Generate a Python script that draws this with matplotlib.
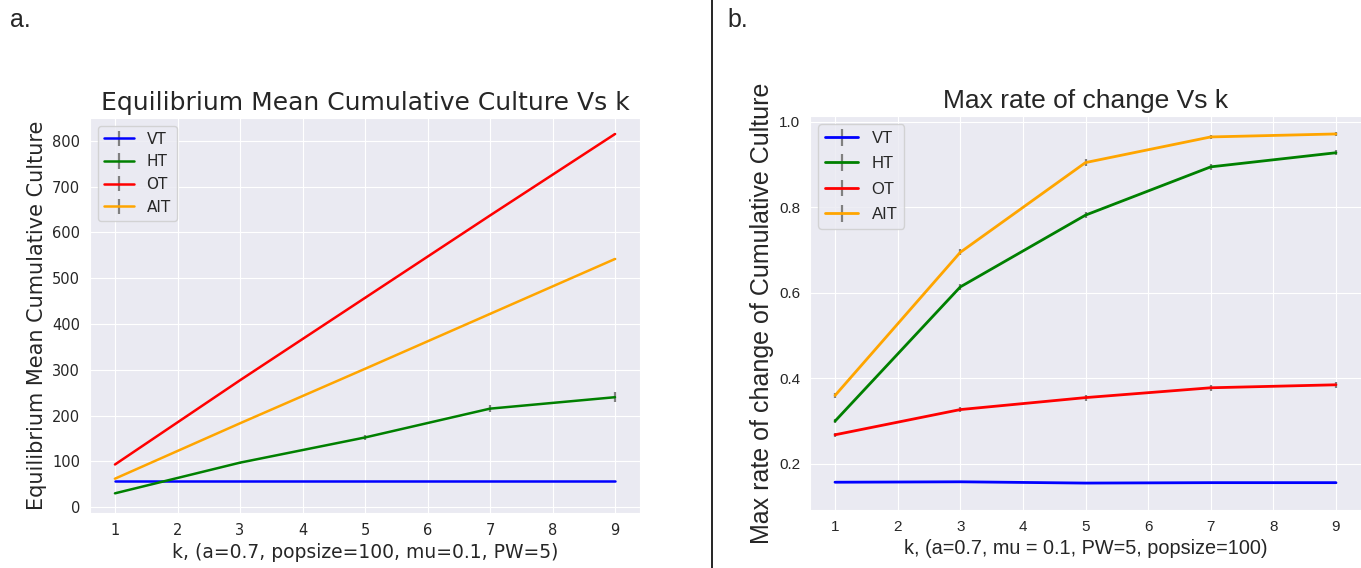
import matplotlib.pyplot as plt
import seaborn as sns

sns.set_style("darkgrid")

k_values = [1, 3, 5, 7, 9]
series_names = ["VT", "HT", "OT", "AIT"]
series_colors = ["blue", "green", "red", "orange"]

# equilibrium mean cumulative culture
eq_vt = [57, 57, 57, 57, 57]
eq_ht = [30, 97, 152, 215, 240]
eq_ot = [93, 277, 457, 637, 815]
eq_ait = [62, 183, 302, 422, 542]
eq_vt_err = [1, 1, 1, 1, 1]
eq_ht_err = [1, 2, 5, 7, 11]
eq_ot_err = [1, 1, 2, 2, 3]
eq_ait_err = [1, 1, 1, 2, 2]

# max rate of change of cumulative culture
rate_vt = [0.157, 0.158, 0.155, 0.156, 0.156]
rate_ht = [0.300, 0.614, 0.782, 0.895, 0.928]
rate_ot = [0.268, 0.327, 0.355, 0.378, 0.385]
rate_ait = [0.360, 0.695, 0.905, 0.965, 0.972]
rate_vt_err = [0.002, 0.002, 0.002, 0.002, 0.002]
rate_ht_err = [0.005, 0.007, 0.007, 0.007, 0.006]
rate_ot_err = [0.005, 0.005, 0.007, 0.007, 0.007]
rate_ait_err = [0.006, 0.007, 0.008, 0.005, 0.004]

W, H = 1361, 568
fig = plt.figure(figsize=(W / 100, H / 100), dpi=100)
fig.patch.set_facecolor("white")

ax1 = fig.add_axes([90 / W, 1 - 513 / H, 550 / W, 395 / H])
ax2 = fig.add_axes([810 / W, 1 - 510 / H, 551 / W, 394 / H])

eq_data = [(eq_vt, eq_vt_err), (eq_ht, eq_ht_err), (eq_ot, eq_ot_err), (eq_ait, eq_ait_err)]
for (vals, err), name, c in zip(eq_data, series_names, series_colors):
    ax1.errorbar(k_values, vals, yerr=err, color=c, ecolor="gray", elinewidth=1.6,
                 label=name, linewidth=1.8)

ax1.set_xlim(0.6, 9.4)
ax1.set_ylim(-13, 850)
ax1.set_xticks(range(1, 10))
ax1.set_title("Equilibrium Mean Cumulative Culture Vs k", fontsize=18, color="#262626")
ax1.set_xlabel("k, (a=0.7, popsize=100, mu=0.1, PW=5)", fontsize=13.5, color="#262626")
ax1.set_ylabel("Equilibrium Mean Cumulative Culture", fontsize=15, color="#262626")
ax1.tick_params(labelsize=10.5, colors="#262626")
ax1.legend(loc="upper left", fontsize=11, frameon=True)

rate_data = [(rate_vt, rate_vt_err), (rate_ht, rate_ht_err), (rate_ot, rate_ot_err), (rate_ait, rate_ait_err)]
arial = ["Liberation Sans", "DejaVu Sans"]
for (vals, err), name, c in zip(rate_data, series_names, series_colors):
    ax2.errorbar(k_values, vals, yerr=err, color=c, ecolor="gray", elinewidth=1.6,
                 label=name, linewidth=2)

ax2.set_xlim(0.6, 9.4)
ax2.set_ylim(0.092, 1.014)
ax2.set_xticks(range(1, 10))
ax2.set_yticks([0.2, 0.4, 0.6, 0.8, 1.0])
ax2.set_title("Max rate of change Vs k", fontsize=19, family=arial, color="#262626")
ax2.set_xlabel("k, (a=0.7, mu = 0.1, PW=5, popsize=100)", fontsize=14.3, family=arial, color="#262626")
ax2.set_ylabel("Max rate of change of Cumulative Culture", fontsize=18, family=arial, color="#262626")
ax2.tick_params(labelsize=11, colors="#262626")
for lbl in ax2.get_xticklabels() + ax2.get_yticklabels():
    lbl.set_family(arial)
leg = ax2.legend(loc="upper left", fontsize=12, frameon=True, labelspacing=0.62)
for t in leg.get_texts():
    t.set_family(arial)

# panel labels and divider
fig.text(10 / W, 1 - 20 / H, "a.", fontsize=18, family=arial, va="center")
fig.text(727 / W, 1 - 20 / H, "b.", fontsize=18, family=arial, va="center")
fig.add_artist(plt.Line2D([712 / W, 712 / W], [0, 1], color="black", linewidth=1.2))

fig.savefig("out.png", dpi=100)
